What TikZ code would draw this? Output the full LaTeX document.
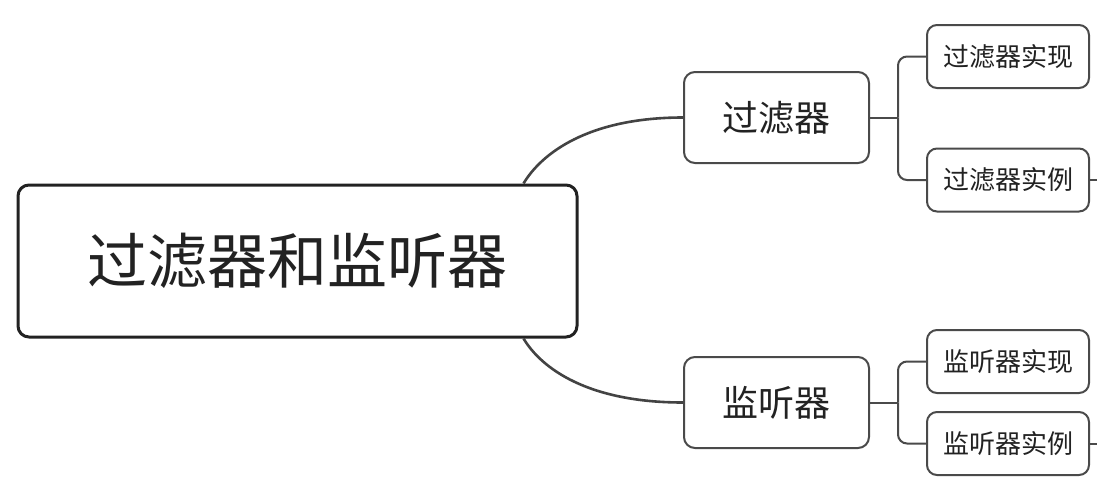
\documentclass[tikz,border=0pt]{standalone}
\usepackage{fontspec}
\newfontfamily\cjk{Noto Sans CJK SC}
\usetikzlibrary{calc}
\definecolor{ink}{HTML}{222222}
\definecolor{edge}{HTML}{4A4A4A}
\begin{document}
\begin{tikzpicture}[x=1pt,y=-1pt,
  rootbox/.style={draw=ink,line width=3pt,rounded corners=11pt,minimum width=559pt,minimum height=152pt,inner sep=0pt,font=\cjk\fontsize{60}{60}\selectfont,text=ink},
  midbox/.style={draw=edge,line width=2pt,rounded corners=11pt,minimum width=185pt,minimum height=91pt,inner sep=0pt,font=\cjk\fontsize{36}{36}\selectfont,text=ink},
  leafbox/.style={draw=edge,line width=2pt,rounded corners=10pt,minimum width=162pt,minimum height=63pt,inner sep=0pt,font=\cjk\fontsize{26}{26}\selectfont,text=ink},
  link/.style={draw=ink!85,line width=2.6pt},
  branch/.style={draw=edge,line width=2pt,rounded corners=9pt}]
\useasboundingbox[fill=white] (0,0) rectangle (1097,490);
\node[rootbox] (root) at (297.5,261) {过滤器和监听器};
\node[midbox] (f) at (776.5,117.5) {过滤器};
\node[midbox] (l) at (776.5,402.5) {监听器};
\node[leafbox] (f1) at (1008,56.5) {过滤器实现};
\node[leafbox] (f2) at (1008,180) {过滤器实例};
\node[leafbox] (l1) at (1008,361.5) {监听器实现};
\node[leafbox] (l2) at (1008,443.5) {监听器实例};
\coordinate (rt) at ($(root.north east)+(-55,0)$);
\coordinate (rb) at ($(root.south east)+(-55,0)$);
\draw[link] (rt) .. controls ($(rt)+(18,-30)$) and ($(f.west)+(-95,0)$) .. (f.west);
\draw[link] (rb) .. controls ($(rb)+(18,30)$) and ($(l.west)+(-95,0)$) .. (l.west);
\draw[branch] (f.east) -- ++(28,0) coordinate (fb);
\draw[branch] (fb) |- (f1.west);
\draw[branch] (fb) |- (f2.west);
\draw[branch] (l.east) -- ++(28,0) coordinate (lb);
\draw[branch] (lb) |- (l1.west);
\draw[branch] (lb) |- (l2.west);
\draw[branch] (f2.east) -- ++(12,0);
\draw[branch] (l2.east) -- ++(12,0);
\end{tikzpicture}
\end{document}
